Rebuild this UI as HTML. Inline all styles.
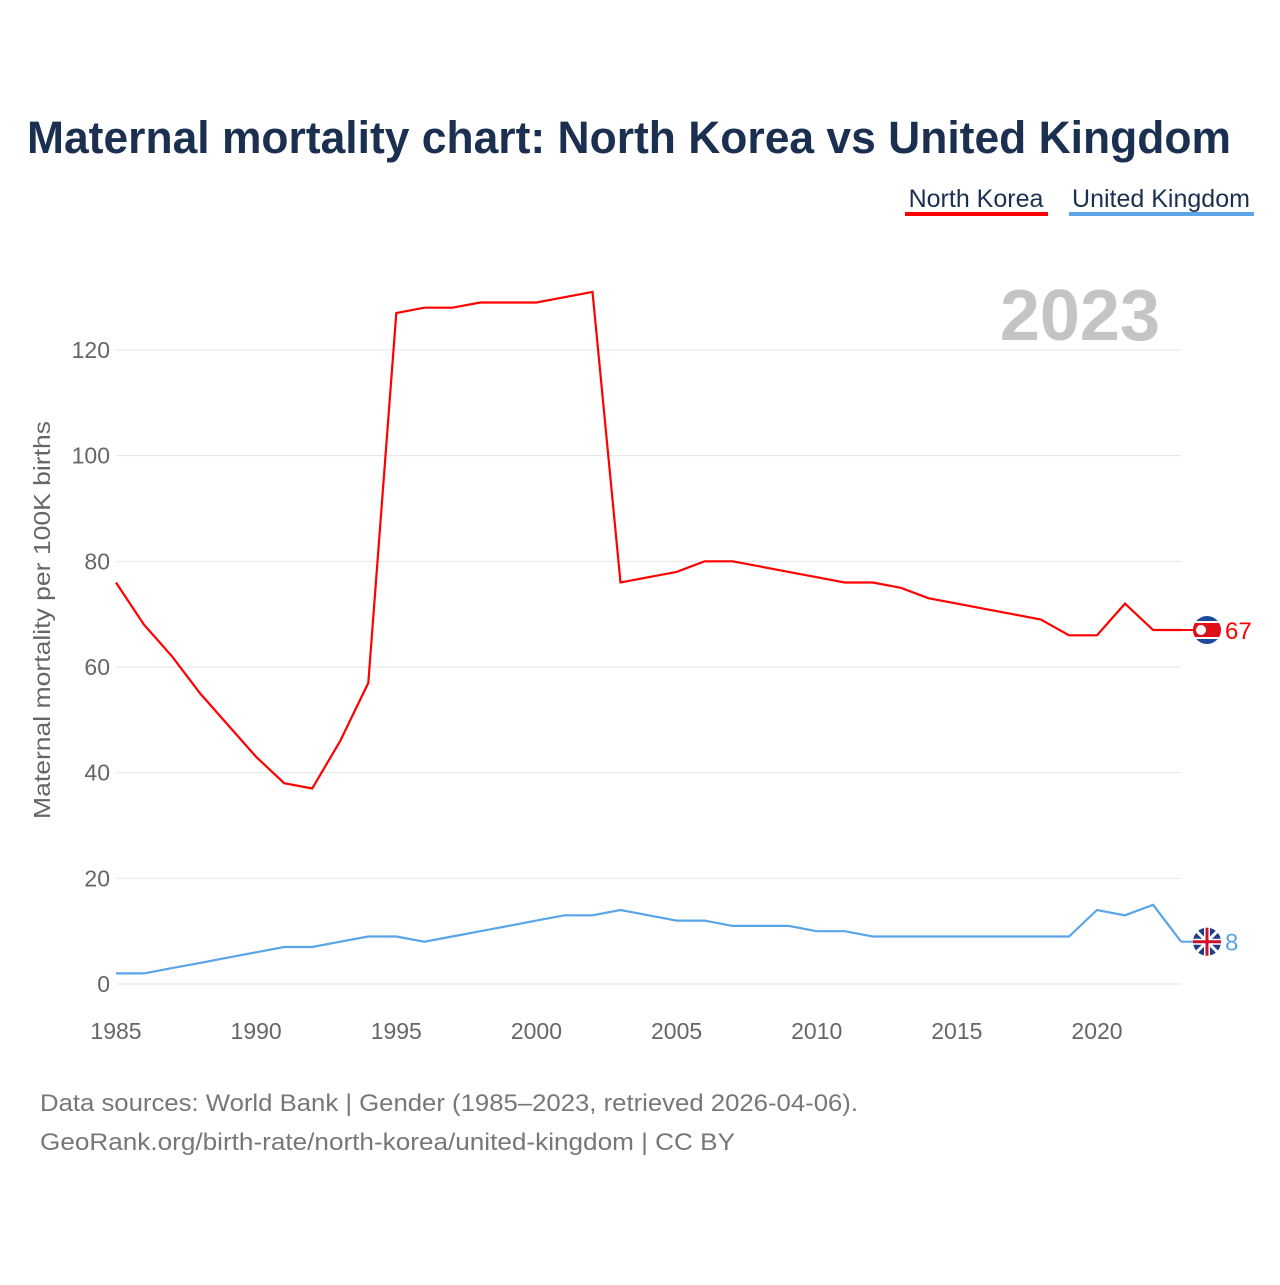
<!DOCTYPE html>
<html><head><meta charset="utf-8"><style>
body{margin:0;background:#fff;font-family:"Liberation Sans",sans-serif;}
svg text{font-family:"Liberation Sans",sans-serif;}
</style></head><body>
<svg id="chart" width="1280" height="1280" xmlns="http://www.w3.org/2000/svg">
<defs><clipPath id="nkc"><circle cx="1207" cy="630" r="14"/></clipPath></defs>
<text x="629" y="153" text-anchor="middle" font-size="45" font-weight="bold" fill="#1b3050" textLength="1204" lengthAdjust="spacingAndGlyphs">Maternal mortality chart: North Korea vs United Kingdom</text>
<g><text x="976" y="207" text-anchor="middle" font-size="25" fill="#1b3050">North Korea</text><rect x="905" y="212" width="143" height="4" fill="#ff0000"/></g>
<g><text x="1161" y="207" text-anchor="middle" font-size="25" fill="#1b3050">United Kingdom</text><rect x="1069" y="212" width="185" height="4" fill="#5aa4e8"/></g>
<text x="1160" y="340" text-anchor="end" font-size="72" font-weight="bold" fill="#c4c4c4">2023</text>
<text transform="translate(50,620) rotate(-90)" text-anchor="middle" font-size="23" fill="#666" textLength="398" lengthAdjust="spacingAndGlyphs">Maternal mortality per 100K births</text>
<g id="grid"></g><g id="xt"></g><g id="lines"></g>
<text x="40" y="1111" font-size="24" fill="#777" textLength="818" lengthAdjust="spacingAndGlyphs">Data sources: World Bank | Gender (1985–2023, retrieved 2026-04-06).</text>
<text x="40" y="1150" font-size="24" fill="#777" textLength="695" lengthAdjust="spacingAndGlyphs">GeoRank.org/birth-rate/north-korea/united-kingdom | CC BY</text>
</svg>
<script>
const years=[];for(let y=1985;y<=2023;y++)years.push(y);
const northKorea=[76,68,62,55,49,43,38,37,46,57,127,128,128,129,129,129,130,131,76,77,78,80,80,79,78,77,76,76,75,73,72,71,70,69,66,66,72,67,67];
const unitedKingdom=[2,2,3,4,5,6,7,7,8,9,9,8,9,10,11,12,13,13,14,13,12,12,11,11,11,10,10,9,9,9,9,9,9,9,9,14,13,15,8];
const yTicks=[0,20,40,60,80,100,120];
const xTicks=[1985,1990,1995,2000,2005,2010,2015,2020];
const NS="http://www.w3.org/2000/svg";
const X=y=>116+(y-1985)*(1097-116)/35;
const Y=v=>984-v*634/120;
function mk(t,a,p){const e=document.createElementNS(NS,t);for(const k in a)e.setAttribute(k,a[k]);p.appendChild(e);return e;}
const g=document.getElementById('grid'),xt=document.getElementById('xt'),L=document.getElementById('lines');
yTicks.forEach(v=>{
 const l=mk('line',{x1:116,x2:1181,y1:Y(v),y2:Y(v),stroke:'#e6e6e6','stroke-width':1},g);
 
 
 const t=mk('text',{x:110,y:Y(v)+8,'text-anchor':'end','font-size':23,fill:'#666'},g);t.textContent=v;
 
 
});
xTicks.forEach(v=>{
 const t=mk('text',{x:X(v),y:1039,'text-anchor':'middle','font-size':23,fill:'#666'},xt);t.textContent=v;
 
 
});
function series(vals,col,name){
 const p=mk('path',{d:vals.map((v,i)=>(i?'L':'M')+X(years[i]).toFixed(1)+','+Y(v).toFixed(1)).join(''),fill:'none',stroke:col,'stroke-width':2.2},L);
 
 
 const last=vals[vals.length-1],cy=Y(last);
 const d=mk('line',{x1:1181,x2:1195,y1:cy,y2:cy,stroke:col,'stroke-width':2},L);
 
 
 const fg=mk('g',{},L);
 
 
 if(name==='north-korea'){
  document.querySelector('#nkc circle').setAttribute('cy',cy);
  const cg=mk('g',{'clip-path':'url(#nkc)'},fg);
  mk('rect',{x:1193,y:cy-14,width:28,height:28,fill:'#1b4a9c'},cg);
  mk('rect',{x:1193,y:cy-9,width:28,height:18,fill:'#fff'},cg);
  mk('rect',{x:1193,y:cy-7,width:28,height:14,fill:'#e0101a'},cg);
  mk('circle',{cx:1201,cy:cy,r:5,fill:'#fff'},cg);
 } else {
  mk('circle',{cx:1207,cy:cy,r:14,fill:'#1f3d8a'},fg);
  mk('path',{d:`M1197,${cy-10}L1217,${cy+10}M1217,${cy-10}L1197,${cy+10}`,stroke:'#fff','stroke-width':3},fg);
  mk('path',{d:`M1193,${cy}H1221M1207,${cy-14}V${cy+14}`,stroke:'#fff','stroke-width':6},fg);
  mk('path',{d:`M1193,${cy}H1221M1207,${cy-14}V${cy+14}`,stroke:'#d0102a','stroke-width':3},fg);
 }
 const t=mk('text',{x:1225,y:cy+9,'font-size':24,fill:col},L);t.textContent=last;
 
 
}
series(northKorea,'#ff0000','north-korea');
series(unitedKingdom,'#5aa4e8','united-kingdom');
</script>
</body></html>
